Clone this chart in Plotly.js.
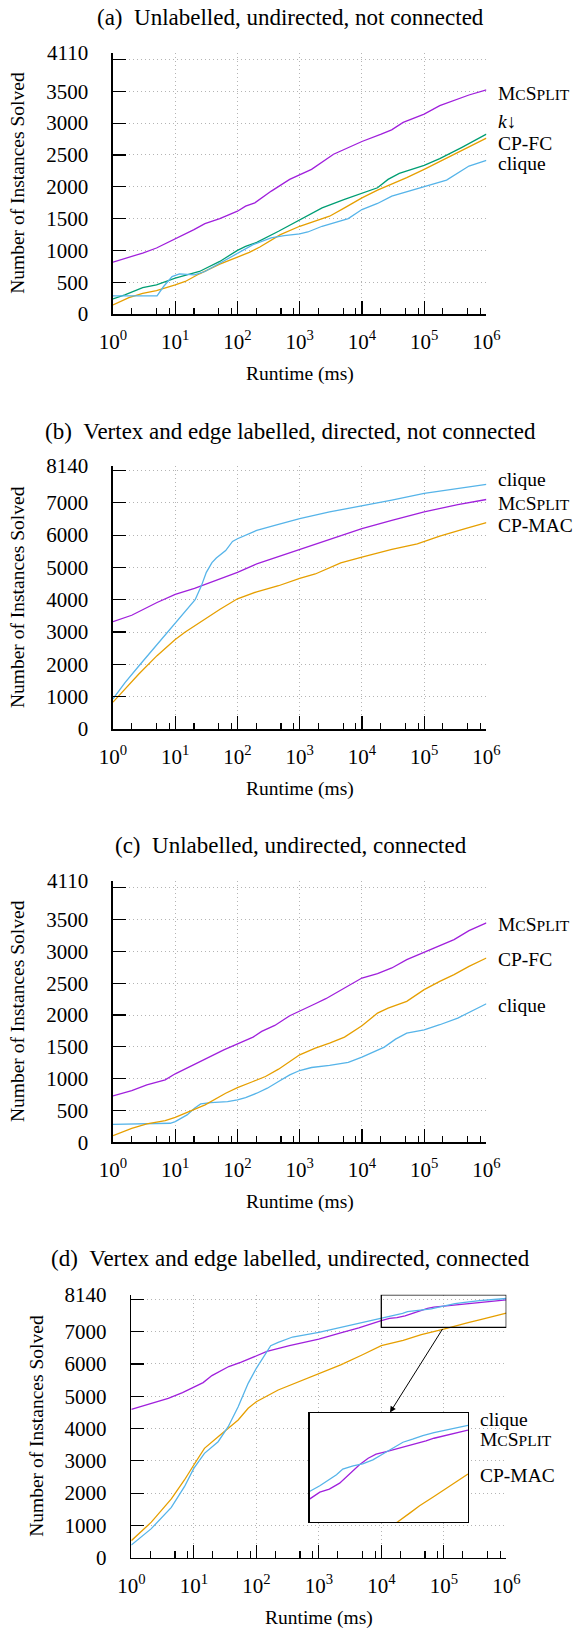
<!DOCTYPE html>
<html><head><meta charset="utf-8">
<script src="https://cdn.plot.ly/plotly-3.0.1.min.js"></script>
<style>html,body{margin:0;padding:0;background:#fff}</style>
</head><body><div id="chart" style="width:574px;height:1628px"></div>
<script>
// ---------------- data ----------------
const xTickVals = [1, 10, 100, 1000, 10000, 100000, 1000000];
const xTickText = ['10<sup>0</sup>','10<sup>1</sup>','10<sup>2</sup>','10<sup>3</sup>','10<sup>4</sup>','10<sup>5</sup>','10<sup>6</sup>'];
const xMinorVals = [2,5,8,20,50,80,200,500,800,2000,5000,8000,20000,50000,80000,200000,500000,800000];
const yTickValsSmall = [0,500,1000,1500,2000,2500,3000,3500,4000,4110];
const yTickTextSmall = ['0','500','1000','1500','2000','2500','3000','3500','','4110'];
const yTickValsLarge = [0,1000,2000,3000,4000,5000,6000,7000,8000,8140];
const yTickTextLarge = ['0','1000','2000','3000','4000','5000','6000','7000','','8140'];

// (a) Unlabelled, undirected, not connected
const aMcsplitX = [1,2,3,5,10,14,20,30,52,100,135,190,350,690,1000,1550,3500,6000,10000,20400,30000,46000,100000,178000,525000,1000000];
const aMcsplitY = [816,905,958,1037,1179,1247,1326,1421,1500,1616,1695,1747,1932,2116,2184,2274,2511,2616,2711,2826,2895,3011,3142,3274,3442,3521];
const aKdownX = [1,1.55,3,5,10,15.5,24.5,52,100,135,204,457,1000,2290,5250,10000,17800,26300,39800,100000,178000,398000,1000000];
const aKdownY = [237,300,416,458,563,616,668,826,1000,1063,1126,1300,1474,1668,1800,1895,1984,2116,2211,2337,2442,2616,2826];
const aCpfcX = [1,1.8,3,5,10,14.5,24.5,52,100,155,229,347,490,1000,1780,3020,5250,10000,17800,30200,52500,100000,178000,398000,1000000];
const aCpfcY = [142,258,326,368,458,511,632,784,895,968,1053,1158,1247,1379,1458,1537,1668,1826,1947,2037,2142,2274,2395,2563,2763];
const aCliqueX = [1,1.8,5.1,6.5,8.9,11.7,20.4,30,52,100,178,347,562,1000,1350,2290,3980,6030,10000,17800,30200,45700,100000,229000,525000,1000000];
const aCliqueY = [284,284,284,432,589,632,616,668,800,958,1089,1195,1232,1258,1289,1379,1447,1500,1642,1737,1853,1905,2000,2105,2326,2416];

// (b) Vertex and edge labelled, directed, not connected
const bCliqueX = [1,1.55,2.6,5.1,10,16.6,20.9,26.3,31.6,38.9,45.7,64.6,83.2,100,204,398,1000,3020,10000,30200,100000,347000,1000000];
const bCliqueY = [930,1430,1950,2610,3250,3770,4000,4430,4850,5150,5290,5524,5805,5888,6148,6303,6511,6719,6905,7082,7290,7445,7570];
const bCpmacX = [1,1.55,2.6,5.1,10,14.5,30.2,52.5,100,204,457,1000,1780,4570,10000,30200,77600,178000,457000,1000000];
const bCpmacY = [830,1230,1700,2270,2770,3000,3400,3707,4030,4247,4434,4663,4798,5140,5317,5556,5732,5971,6199,6386];
const bMcsplitX = [1,2,5.1,10,20.4,52.5,100,204,457,1000,2290,10000,30200,100000,347000,1000000];
const bMcsplitY = [3320,3520,3915,4165,4351,4642,4850,5109,5337,5556,5784,6199,6459,6719,6947,7103];

// (c) Unlabelled, undirected, connected
const cMcsplitX = [1,2,3.5,6.9,10,20.4,30.2,60.3,100,178,245,398,692,1000,1780,2630,5250,10000,17800,30200,52500,100000,178000,302000,525000,1000000];
const cMcsplitY = [729,813,902,981,1076,1217,1306,1453,1542,1653,1742,1836,1988,2057,2177,2256,2424,2581,2650,2739,2870,2985,3096,3185,3326,3447];
const cCpfcX = [1,2,3.5,6.9,10,15.5,20.4,30.2,64.6,100,178,282,457,692,1000,1780,3020,5250,10000,17800,26300,52500,100000,178000,302000,525000,1000000];
const cCpfcY = [105,220,289,341,393,472,509,588,771,860,955,1034,1149,1270,1375,1480,1558,1653,1831,2030,2109,2214,2398,2529,2634,2765,2896];
const cCliqueX = [1,3.5,8.3,10,15.5,20.4,25.7,37.2,69.2,100,135,204,302,457,692,1000,1550,3020,6030,10000,15500,22900,34700,52500,100000,178000,347000,603000,1000000];
const cCliqueY = [283,289,299,325,430,535,603,624,640,666,703,771,850,955,1060,1128,1175,1207,1254,1338,1427,1495,1621,1716,1768,1847,1952,2072,2177];

// (d) Vertex and edge labelled, undirected, connected
const dMcsplitX = [1,1.95,3.9,6.6,10,14.1,19.5,36.3,57.5,100,148,339,1000,2240,4370,10000,13500,17800,24000,31600,42700,55000,69200,93300,123000,166000,219000,295000,372000,631000,1000000];
const dMcsplitY = [4590,4756,4933,5109,5275,5421,5639,5919,6054,6240,6386,6563,6771,6958,7113,7342,7407,7435,7490,7567,7660,7721,7758,7783,7807,7829,7851,7881,7906,7945,7982];
const dCliqueX = [1,2.09,4.37,7.08,10,14.8,24.5,35.5,51.3,74.1,100,170,224,380,1000,2240,5010,10000,13500,17800,21900,26300,35500,46800,63100,83200,112000,151000,200000,269000,372000,631000,1000000];
const dCliqueY = [393,900,1560,2198,2767,3232,3591,4056,4675,5399,5864,6563,6667,6833,6978,7134,7269,7413,7466,7521,7567,7620,7650,7669,7706,7758,7814,7869,7897,7931,7958,7995,8026];
const dCpmacX = [1,2.09,4.37,7.08,10,14.8,24.5,35.5,51.3,74.1,100,224,575,1000,2240,5010,10000,22400,43700,100000,129000,182000,245000,372000,631000,1000000];
const dCpmacY = [527,1100,1820,2406,2870,3387,3746,4006,4263,4625,4830,5192,5504,5711,5971,6283,6563,6729,6905,7080,7130,7210,7280,7367,7475,7574];

// ---------------- styling ----------------
const PURPLE = '#a020dc', GREEN = '#009e73', ORANGE = '#e69f00', BLUE = '#56b4e9';
const FONT = '"Liberation Serif", "Times New Roman", Times, serif';
const W = 574, H = 1628;
const px = v => v / W;           // pixel -> paper x
const py = v => 1 - v / H;       // pixel -> paper y

function line(x, y, color, xa, ya) {
  return {x: x, y: y, type: 'scatter', mode: 'lines', xaxis: xa, yaxis: ya,
          line: {color: color, width: 1.3}, hoverinfo: 'skip', showlegend: false};
}

const traces = [
  line(aMcsplitX, aMcsplitY, PURPLE, 'x', 'y'),
  line(aKdownX, aKdownY, GREEN, 'x', 'y'),
  line(aCpfcX, aCpfcY, ORANGE, 'x', 'y'),
  line(aCliqueX, aCliqueY, BLUE, 'x', 'y'),

  line(bCpmacX, bCpmacY, ORANGE, 'x2', 'y2'),
  line(bMcsplitX, bMcsplitY, PURPLE, 'x2', 'y2'),
  line(bCliqueX, bCliqueY, BLUE, 'x2', 'y2'),

  line(cCliqueX, cCliqueY, BLUE, 'x3', 'y3'),
  line(cCpfcX, cCpfcY, ORANGE, 'x3', 'y3'),
  line(cMcsplitX, cMcsplitY, PURPLE, 'x3', 'y3'),

  line(dCpmacX, dCpmacY, ORANGE, 'x4', 'y4'),
  line(dMcsplitX, dMcsplitY, PURPLE, 'x4', 'y4'),
  line(dCliqueX, dCliqueY, BLUE, 'x4', 'y4'),

  line(dCpmacX, dCpmacY, ORANGE, 'x5', 'y5'),
  line(dMcsplitX, dMcsplitY, PURPLE, 'x5', 'y5'),
  line(dCliqueX, dCliqueY, BLUE, 'x5', 'y5')
];

function xAxis(x0, x1, anchor) {
  return {
    type: 'log', range: [0, 6], domain: [px(x0), px(x1)], anchor: anchor,
    showline: true, linecolor: '#000', linewidth: 1.6,
    ticks: 'inside', ticklen: 13, tickwidth: 1.2, tickcolor: '#000',
    tickmode: 'array', tickvals: xTickVals, ticktext: xTickText,
    tickfont: {family: FONT, size: 21, color: '#000'}, ticklabelstandoff: 8,
    showgrid: true, gridcolor: '#b4b4b4', gridwidth: 1, griddash: '1px,3px',
    minor: {tickmode: 'array', tickvals: xMinorVals, ticks: 'inside', ticklen: 6.5,
            tickwidth: 1.1, tickcolor: '#000', showgrid: false},
    zeroline: false, fixedrange: true
  };
}
function yAxis(top, bottom, anchor, maxv, vals, text) {
  return {
    range: [0, maxv], domain: [py(bottom), py(top)], anchor: anchor,
    showline: true, linecolor: '#000', linewidth: 1.6,
    ticks: 'inside', ticklen: 13, tickwidth: 1.2, tickcolor: '#000',
    tickmode: 'array', tickvals: vals, ticktext: text,
    tickfont: {family: FONT, size: 21, color: '#000'}, ticklabelstandoff: 19,
    showgrid: true, gridcolor: '#b4b4b4', gridwidth: 1, griddash: '1px,3px',
    zeroline: false, fixedrange: true
  };
}

const panels = [
  {title: '(a)\u2002Unlabelled, undirected, not connected', top: 52.5, bottom: 314, x0: 113, x1: 486.4, ty: 17, ytx: 17.6},
  {title: '(b)\u2002Vertex and edge labelled, directed, not connected', top: 466, bottom: 729, x0: 113, x1: 486.4, ty: 431, ytx: 17.6},
  {title: '(c)\u2002Unlabelled, undirected, connected', top: 880.7, bottom: 1142.3, x0: 113, x1: 486.4, ty: 845, ytx: 17.6},
  {title: '(d)\u2002Vertex and edge labelled, undirected, connected', top: 1294.8, bottom: 1557.7, x0: 131.3, x1: 506.3, ty: 1258.5, ytx: 36.6}
];

const layout = {
  width: W, height: H, margin: {l: 0, r: 0, t: 0, b: 0},
  paper_bgcolor: '#fff', plot_bgcolor: '#fff', showlegend: false,
  font: {family: FONT, color: '#000'},
  xaxis: xAxis(panels[0].x0, panels[0].x1, 'y'),
  yaxis: yAxis(panels[0].top, panels[0].bottom, 'x', 4110, yTickValsSmall, yTickTextSmall),
  xaxis2: xAxis(panels[1].x0, panels[1].x1, 'y2'),
  yaxis2: yAxis(panels[1].top, panels[1].bottom, 'x2', 8140, yTickValsLarge, yTickTextLarge),
  xaxis3: xAxis(panels[2].x0, panels[2].x1, 'y3'),
  yaxis3: yAxis(panels[2].top, panels[2].bottom, 'x3', 4110, yTickValsSmall, yTickTextSmall),
  xaxis4: xAxis(panels[3].x0, panels[3].x1, 'y4'),
  yaxis4: yAxis(panels[3].top, panels[3].bottom, 'x4', 8140, yTickValsLarge, yTickTextLarge),
  xaxis5: {type: 'log', range: [4, 6], domain: [px(309.5), px(468)], anchor: 'y5',
           showline: true, mirror: true, linecolor: '#000', linewidth: 1.4,
           ticks: '', showticklabels: false, showgrid: false, zeroline: false, fixedrange: true},
  yaxis5: {range: [7130, 8140], domain: [py(1522), py(1413)], anchor: 'x5',
           showline: true, mirror: true, linecolor: '#000', linewidth: 1.4,
           ticks: '', showticklabels: false, showgrid: false, zeroline: false, fixedrange: true},
  shapes: [
    {type: 'rect', xref: 'x4', yref: 'y4', x0: 10000, x1: 1000000, y0: 7130, y1: 8140,
     line: {color: '#000', width: 1.3}, fillcolor: 'rgba(0,0,0,0)', layer: 'above'}
  ],
  annotations: []
};

const ann = layout.annotations;
panels.forEach((p, i) => {
  ann.push({text: p.title, xref: 'paper', yref: 'paper', x: px(290.5), y: py(p.ty),
            xanchor: 'center', yanchor: 'middle', showarrow: false,
            font: {family: FONT, size: 23, color: '#000'}});
  ann.push({text: 'Number of Instances Solved', xref: 'paper', yref: 'paper',
            x: px(p.ytx), y: py((p.top + p.bottom) / 2), textangle: -90,
            xanchor: 'center', yanchor: 'middle', showarrow: false,
            font: {family: FONT, size: 19.5, color: '#000'}});
  ann.push({text: 'Runtime (ms)', xref: 'paper', yref: 'paper',
            x: px((p.x0 + p.x1) / 2), y: py(p.bottom + 60),
            xanchor: 'center', yanchor: 'middle', showarrow: false,
            font: {family: FONT, size: 19.5, color: '#000'}});
});

const MCSPLIT = 'M<span style="font-size:15.5px">C</span>S<span style="font-size:15.5px">PLIT</span>';
const endLabels = [
  {text: MCSPLIT, yref: 'y', y: 3470, x: 496},
  {text: '<i>k</i>\u2193', yref: 'y', y: 3024, x: 496},
  {text: 'CP-FC', yref: 'y', y: 2673, x: 496},
  {text: 'clique', yref: 'y', y: 2370, x: 496},
  {text: 'clique', yref: 'y2', y: 7709, x: 496},
  {text: MCSPLIT, yref: 'y2', y: 6988, x: 496},
  {text: 'CP-MAC', yref: 'y2', y: 6285, x: 496},
  {text: MCSPLIT, yref: 'y3', y: 3415, x: 496},
  {text: 'CP-FC', yref: 'y3', y: 2865, x: 496},
  {text: 'clique', yref: 'y3', y: 2142, x: 496},
  {text: 'clique', yref: 'y4', y: 4294, x: 478},
  {text: MCSPLIT, yref: 'y4', y: 3666, x: 478},
  {text: 'CP-MAC', yref: 'y4', y: 2530, x: 478}
];
endLabels.forEach(l => ann.push({text: l.text, xref: 'paper', yref: l.yref, x: px(l.x), y: l.y,
  xanchor: 'left', yanchor: 'middle', showarrow: false, font: {family: FONT, size: 19.5, color: '#000'}}));

// zoom arrow from main rectangle to inset
ann.push({text: '', xref: 'paper', yref: 'paper', x: px(390), y: py(1412.5),
          ax: 53.5, ay: -85, axref: 'pixel', ayref: 'pixel', showarrow: true,
          arrowhead: 2, arrowsize: 1.2, arrowwidth: 1, arrowcolor: '#000', standoff: 0});

Plotly.newPlot('chart', traces, layout, {staticPlot: true, displayModeBar: false});
</script>
</body></html>
